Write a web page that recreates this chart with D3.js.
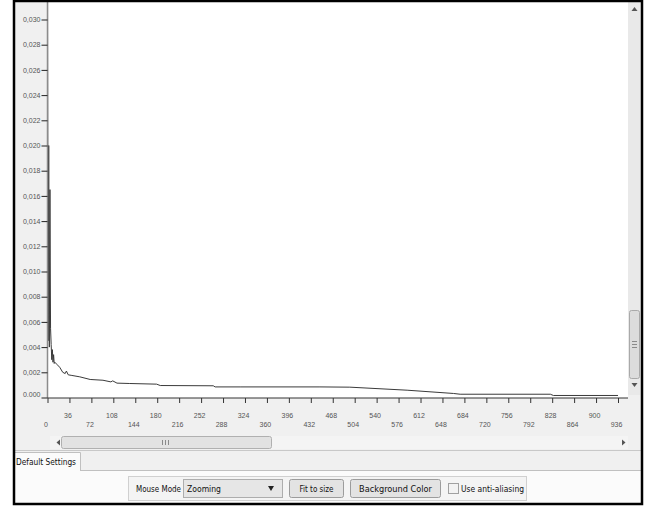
<!DOCTYPE html>
<html><head><meta charset="utf-8">
<script src="https://cdn.jsdelivr.net/npm/d3@7/dist/d3.min.js"></script>
<style>body{margin:0;background:#fff}svg{display:block}</style>
</head><body><svg id="c" width="656" height="511"></svg>
<script>
// ---- data ----
const xValues = [0,1,2,3,4,5,6,7,8,9,10,11,12,16,20,25,29,31,34,40,53,70,91,104,107,114,135,179,185,272,275,316,447,496,590,666,677,825,830,936];
const yValues = [0.0340,0.0045,0.0200,0.0040,0.0165,0.0055,0.0042,0.0030,0.0038,0.0028,0.0034,0.0027,0.0028,0.0026,0.0024,0.0020,0.0019,0.0021,0.0018,0.00175,0.00164,0.00143,0.00137,0.00124,0.00132,0.00114,0.00111,0.00106,0.00095,0.00093,0.00084,0.00084,0.00084,0.00082,0.00058,0.00032,0.00026,0.00026,0.00016,0.00016];
const xTicks = [0,36,72,108,144,180,216,252,288,324,360,396,432,468,504,540,576,612,648,684,720,756,792,828,864,900,936];
const yTicks = [0,0.002,0.004,0.006,0.008,0.010,0.012,0.014,0.016,0.018,0.020,0.022,0.024,0.026,0.028,0.030];
const yTickLabels = ["0.000","0,002","0,004","0,006","0,008","0,010","0,012","0,014","0,016","0,018","0,020","0,022","0,024","0,026","0,028","0,030"];

const svg = d3.select("#c");
const uiFont = "'Liberation Sans Narrow','DejaVu Sans Condensed','Liberation Sans',sans-serif";
const tickFont = "'Liberation Sans','DejaVu Sans',sans-serif";

// window background inside the frame
svg.append("rect").attr("x",14).attr("y",1).attr("width",628).attr("height",503).attr("fill","#f0f0f0");

const P = {l:48, r:628, t:2, b:398};
svg.append("rect").attr("x",P.l).attr("y",P.t).attr("width",P.r-P.l).attr("height",P.b-P.t).attr("fill","#fff");

const x = d3.scaleLinear().domain([0,936]).range([47.5,618]);
const y = d3.scaleLinear().domain([0,0.030]).range([397.5,19.5]);

// clip
svg.append("clipPath").attr("id","clip").append("rect")
  .attr("x",P.l-1).attr("y",P.t).attr("width",P.r-P.l+1).attr("height",P.b-P.t);

// data line
const line = d3.line().x((d,i)=>x(xValues[i])).y((d,i)=>y(yValues[i]));
svg.append("path").datum(yValues).attr("d",line)
  .attr("clip-path","url(#clip)")
  .attr("fill","none").attr("stroke","#3a3a3a").attr("stroke-width",1);

// y axis
const ya = svg.append("g").attr("transform","translate(47.5,0)")
  .call(d3.axisLeft(y).tickValues(yTicks).tickFormat((d,i)=>yTickLabels[i]).tickSize(6).tickPadding(1).tickSizeOuter(0));
ya.select(".domain").attr("stroke","#8c8c8c").attr("stroke-width",1.5)
  .attr("d","M0,"+P.t+"V"+P.b);
ya.selectAll(".tick line").attr("stroke","#222");
ya.selectAll(".tick text").attr("font-family",tickFont).attr("font-size",7).attr("fill","#555")
  .attr("dy",(d,i)=> i===0 ? "-0.1em" : "0.32em");

// x axis
const xa = svg.append("g").attr("transform","translate(0,398)")
  .call(d3.axisBottom(x).tickValues(xTicks).tickSize(5).tickSizeOuter(0));
xa.select(".domain").attr("d","M47.5,0H628").attr("stroke","#333");
xa.selectAll(".tick line").attr("stroke","#333");
xa.selectAll(".tick text").attr("font-family",tickFont).attr("font-size",7).attr("fill","#555")
  .attr("y",(d,i)=> i%2 ? 17.7 : 26.3).attr("dy","0.32em").attr("dx",-2);

// vertical scrollbar
const vs = svg.append("g");
vs.append("rect").attr("x",628).attr("y",2).attr("width",12.5).attr("height",393).attr("fill","#e9e9e9");
vs.append("path").attr("d","M631.5,11 L634.5,7 L637.5,11 Z").attr("fill","#555");
vs.append("path").attr("d","M631.5,383 L634.5,387 L637.5,383 Z").attr("fill","#555");
vs.append("rect").attr("x",629.5).attr("y",310.5).attr("width",10).attr("height",68).attr("rx",2)
  .attr("fill","#dcdcdc").attr("stroke","#a9a9a9");
[341,344,347].forEach(v=>vs.append("line").attr("x1",632).attr("x2",637).attr("y1",v+0.5).attr("y2",v+0.5).attr("stroke","#8a8a8a"));

// horizontal scrollbar
const hs = svg.append("g");
hs.append("rect").attr("x",50).attr("y",436).attr("width",578).attr("height",13).attr("fill","#f4f4f4");
hs.append("path").attr("d","M60,439.5 L56.5,442.5 L60,445.5 Z").attr("fill","#555");
hs.append("path").attr("d","M622,439.5 L625.5,442.5 L622,445.5 Z").attr("fill","#555");
hs.append("rect").attr("x",61.5).attr("y",436.5).attr("width",210).attr("height",12).attr("rx",2)
  .attr("fill","#e2e2e2").attr("stroke","#b0b0b0");
[162,165,168].forEach(v=>hs.append("line").attr("x1",v+0.5).attr("x2",v+0.5).attr("y1",440).attr("y2",445).attr("stroke","#8a8a8a"));

// tab bar & panel
svg.append("line").attr("x1",14).attr("x2",642).attr("y1",450.5).attr("y2",450.5).attr("stroke","#c8c8c8");
svg.append("rect").attr("x",14).attr("y",471).attr("width",628).attr("height",32).attr("fill","#fbfbfb");
svg.append("line").attr("x1",80).attr("x2",642).attr("y1",470.5).attr("y2",470.5).attr("stroke","#c0c0c0");
svg.append("path").attr("d","M14,452.5 H80.5 V471").attr("fill","none").attr("stroke","#c0c0c0");
svg.append("rect").attr("x",15).attr("y",453).attr("width",65).attr("height",18).attr("fill","#fbfbfb");
svg.append("text").attr("x",16).attr("y",465).attr("font-family",uiFont).attr("font-size",9)
  .attr("textLength",60).attr("lengthAdjust","spacingAndGlyphs").attr("fill","#111").text("Default Settings");

// control group
const g = svg.append("g");
g.append("rect").attr("x",128.5).attr("y",476.5).attr("width",398).attr("height",24).attr("fill","#f4f4f4").attr("stroke","#d0d0d0");
g.append("text").attr("x",136).attr("y",492).attr("font-family",uiFont).attr("font-size",9)
  .attr("textLength",45).attr("lengthAdjust","spacingAndGlyphs").attr("fill","#111").text("Mouse Mode");
// combo
g.append("rect").attr("x",183.5).attr("y",479.5).attr("width",99).attr("height",18).attr("fill","#e6e6e6").attr("stroke","#adadad");
g.append("text").attr("x",187).attr("y",492).attr("font-family",uiFont).attr("font-size",9)
  .attr("textLength",34).attr("lengthAdjust","spacingAndGlyphs").attr("fill","#111").text("Zooming");
g.append("path").attr("d","M268,486 L274,486 L271,491 Z").attr("fill","#222");
// buttons
[[289.5,54,"Fit to size",34],[350.5,90,"Background Color",73]].forEach(b=>{
  g.append("rect").attr("x",b[0]).attr("y",479.5).attr("width",b[1]).attr("height",18).attr("rx",2)
    .attr("fill","#e3e3e3").attr("stroke","#9c9c9c");
  g.append("text").attr("x",b[0]+b[1]/2).attr("y",492).attr("text-anchor","middle").attr("font-family",uiFont).attr("font-size",9)
    .attr("textLength",b[3]).attr("lengthAdjust","spacingAndGlyphs").attr("fill","#111").text(b[2]);
});
// checkbox
g.append("rect").attr("x",448.5).attr("y",483.5).attr("width",10).attr("height",10).attr("fill","#f2f2f2").attr("stroke","#a0a0a0");
g.append("text").attr("x",461).attr("y",492).attr("font-family",uiFont).attr("font-size",9)
  .attr("textLength",63).attr("lengthAdjust","spacingAndGlyphs").attr("fill","#111").text("Use anti-aliasing");

// outer frame
svg.append("rect").attr("x",14).attr("y",1).attr("width",628).attr("height",503)
  .attr("fill","none").attr("stroke","#000").attr("stroke-width",2.5);
</script></body></html>
